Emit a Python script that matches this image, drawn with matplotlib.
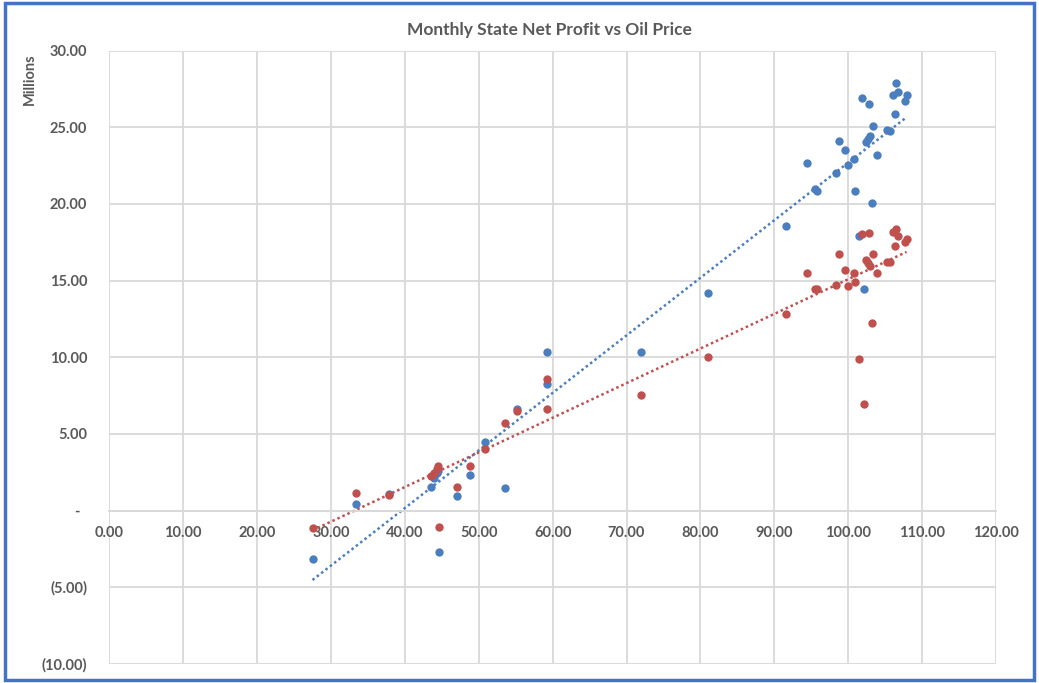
import numpy as np
import matplotlib
matplotlib.use("Agg")
import matplotlib.pyplot as plt
from matplotlib.patches import Rectangle
from matplotlib.ticker import FuncFormatter, MultipleLocator

# oil price per month (x) and the two profit series (millions)
oil_price = [27.5, 33.4, 37.8, 43.5, 43.9, 44.3, 44.5, 44.6, 47.0, 48.8,
             50.9, 53.5, 55.2, 59.2, 59.3, 72.0, 81.0, 91.6, 94.4, 95.5,
             95.8, 98.3, 98.8, 99.6, 100.0, 100.8, 100.9, 101.4, 101.9, 102.2,
             102.4, 102.7, 102.8, 102.9, 103.2, 103.3, 103.9, 105.2, 105.7, 106.0,
             106.3, 106.5, 106.8, 107.7, 107.9]
profit_blue = [-3.13, 0.41, 1.08, 1.52, 2.15, 2.45, 2.6, -2.68, 0.95, 2.32,
               4.5, 1.5, 6.65, 10.35, 8.26, 10.35, 14.19, 18.58, 22.67, 21.0,
               20.83, 22.04, 24.13, 23.52, 22.56, 22.96, 20.83, 17.91, 26.9, 14.44,
               24.06, 24.24, 26.52, 24.44, 20.05, 25.07, 23.22, 24.83, 24.76, 27.13,
               25.89, 27.89, 27.29, 26.74, 27.13]
profit_red = [-1.13, 1.17, 1.0, 2.25, 2.45, 2.7, 2.93, -1.07, 1.56, 2.93,
              4.02, 5.71, 6.5, 8.56, 6.65, 7.56, 10.0, 12.8, 15.5, 14.44,
              14.44, 14.72, 16.74, 15.71, 14.63, 15.5, 14.89, 9.87, 18.04, 6.95,
              16.33, 16.13, 18.13, 15.96, 12.26, 16.74, 15.5, 16.2, 16.2, 18.15,
              17.28, 18.37, 17.89, 17.54, 17.72]

BLUE = "#4A7EBF"
RED = "#C0504D"
GRID = "#D9D9D9"
TXT = "#595959"

plt.rcParams["font.family"] = ["Lato", "DejaVu Sans"]

fig = plt.figure(figsize=(10.39, 6.83), dpi=100)
ax = fig.add_axes([0.1052, 0.0280, 0.8534, 0.8979])

x = np.array(oil_price)
for ys, col in [(profit_blue, BLUE), (profit_red, RED)]:
    ys = np.array(ys)
    ax.scatter(x, ys, s=36, color=col, zorder=3, linewidths=0)
    # linear trendline like excel
    m, b = np.polyfit(x, ys, 1)
    xx = np.array([x.min(), x.max()])
    ax.plot(xx, m * xx + b, color=col, lw=1.8, linestyle=(0, (1, 1.2)), zorder=2)

ax.set_xlim(0, 120)
ax.set_ylim(-10, 30)
ax.xaxis.set_major_locator(MultipleLocator(10))
ax.yaxis.set_major_locator(MultipleLocator(5))
ax.grid(True, color=GRID, lw=1.3)
ax.set_axisbelow(True)

for s in ["top", "right", "left"]:
    ax.spines[s].set_visible(False)
ax.spines["bottom"].set_position(("data", 0))
ax.spines["bottom"].set_color(GRID)
ax.spines["bottom"].set_linewidth(1.3)


def yfmt(v, pos):
    if abs(v) < 1e-9:
        return "-  "
    if v < 0:
        return f"({abs(v):.2f})"
    return f"{v:.2f}"


ax.yaxis.set_major_formatter(FuncFormatter(yfmt))
ax.xaxis.set_major_formatter(FuncFormatter(lambda v, p: f"{v:.2f}"))
ax.tick_params(axis="both", length=0, labelsize=10.5, labelcolor=TXT)
ax.tick_params(axis="x", pad=11)
ax.tick_params(axis="y", pad=16)
for lab in ax.get_xticklabels() + ax.get_yticklabels():
    lab.set_fontweight("bold")

fig.text(0.529, 0.956, "Monthly State Net Profit vs Oil Price", ha="center", va="center",
         fontsize=12.5, fontweight="bold", color=TXT)
fig.text(0.029, 0.884, "Millions", rotation=90, ha="center", va="center",
         fontsize=10.5, fontweight="bold", color=TXT)

fig.patches.append(Rectangle((0.005, 0.004), 0.990, 0.991, transform=fig.transFigure,
                             fill=False, edgecolor="#4472C4", lw=2.5))

fig.savefig("out.png", dpi=100, facecolor="white")
